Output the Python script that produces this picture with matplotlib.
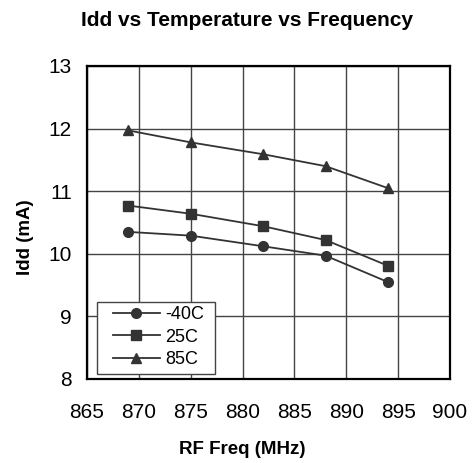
import matplotlib
matplotlib.use("Agg")
import matplotlib.pyplot as plt
from matplotlib.patches import Rectangle

freq = [869, 875, 882, 888, 894]
idd_m40 = [10.35, 10.29, 10.12, 9.97, 9.55]
idd_25 = [10.77, 10.64, 10.44, 10.22, 9.81]
idd_85 = [11.97, 11.78, 11.59, 11.40, 11.05]
labels = ["-40C", "25C", "85C"]
xticks = [865, 870, 875, 880, 885, 890, 895, 900]
yticks = [8, 9, 10, 11, 12, 13]

plt.rcParams['font.family'] = ['Liberation Sans', 'DejaVu Sans']

W, H = 472, 463
fig = plt.figure(figsize=(W / 100, H / 100), dpi=100)
ax = fig.add_axes([87 / W, (H - 379) / H, (450 - 87) / W, (379 - 66) / H])

col = "#333333"
ax.plot(freq, idd_m40, color=col, marker="o", markersize=7, lw=1.3, label=labels[0])
ax.plot(freq, idd_25, color=col, marker="s", markersize=6.5, lw=1.3, label=labels[1])
ax.plot(freq, idd_85, color=col, marker="^", markersize=7, lw=1.3, label=labels[2])

ax.set_xlim(865, 900)
ax.set_ylim(8, 13)
ax.set_xticks(xticks)
ax.set_yticks(yticks)
ax.grid(True, color="#444444", lw=1.0)
ax.tick_params(length=0, labelsize=15)
ax.tick_params(axis="x", pad=17)
ax.tick_params(axis="y", pad=11)
for s in ax.spines.values():
    s.set_linewidth(1.6)
    s.set_color("black")

fig.text(247 / W, (H - 21) / H, "Idd vs Temperature vs Frequency",
         fontweight="bold", fontsize=15, ha="center", va="center")
fig.text(242 / W, (H - 450) / H, "RF Freq (MHz)", fontweight="bold",
         fontsize=13.5, ha="center", va="center")
fig.text(25 / W, (H - 237) / H, "Idd (mA)", fontweight="bold",
         fontsize=13.5, ha="center", va="center", rotation=90)

# legend frame
frame = Rectangle((10 / 363, 5 / 313), 118 / 363, 72 / 313, transform=ax.transAxes,
                  facecolor="white", edgecolor="#444444", lw=1.0, zorder=4)
ax.add_patch(frame)
leg = ax.legend(loc="center left", bbox_to_anchor=(26 / 363, 42 / 313), fontsize=13,
                frameon=False, handlelength=2.6, borderpad=0, labelspacing=0.3,
                handletextpad=0.3, borderaxespad=0)
leg.set_zorder(5)

fig.savefig("out.png", dpi=100)
